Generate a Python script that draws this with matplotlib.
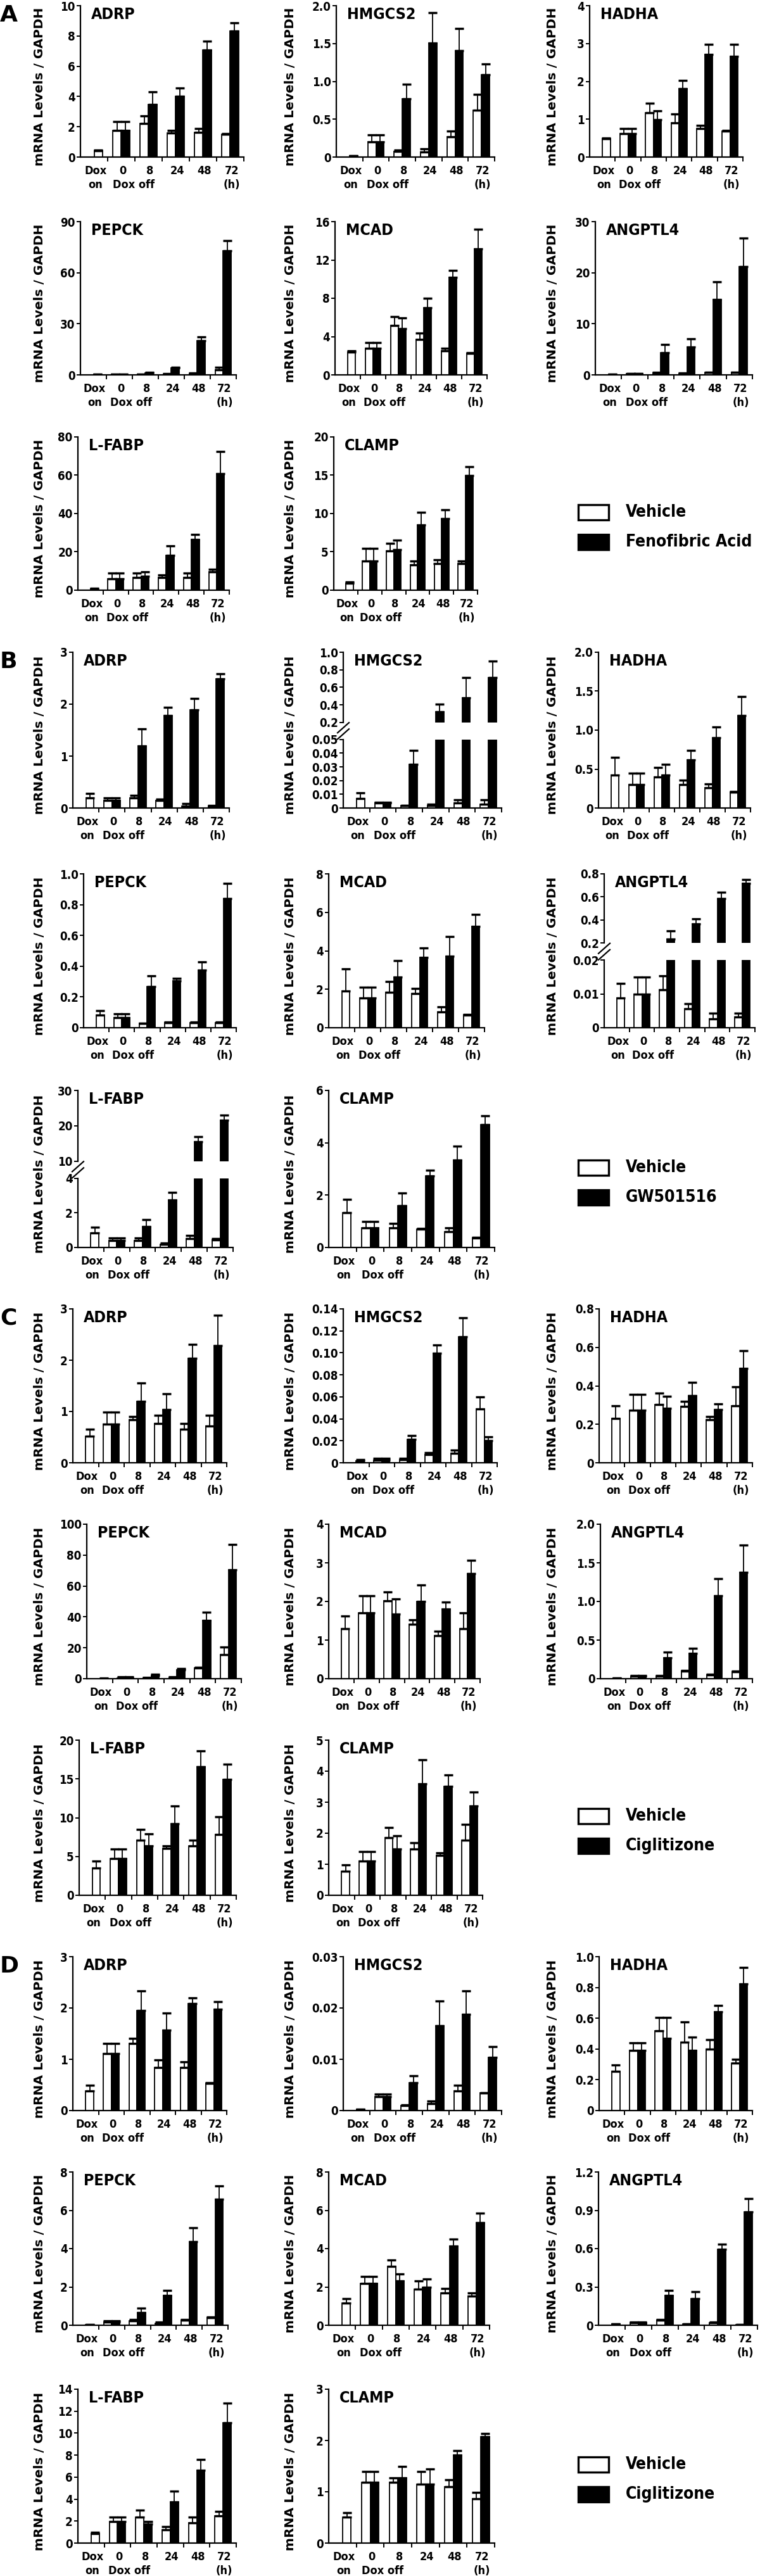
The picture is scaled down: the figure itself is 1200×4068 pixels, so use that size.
import numpy as np
import matplotlib
matplotlib.use("Agg")
import matplotlib.pyplot as plt
from matplotlib import transforms
from matplotlib import font_manager as fm
from matplotlib.patches import Rectangle
from matplotlib.lines import Line2D

nan = np.nan

GROUPS = ["Dox", "0", "8", "24", "48", "72"]
GENES = ["ADRP", "HMGCS2", "HADHA", "PEPCK", "MCAD", "ANGPTL4", "L-FABP", "CLAMP"]
PANELS = ["A", "B", "C", "D"]
TREATMENT = {"A": "Fenofibric Acid", "B": "GW501516", "C": "Ciglitizone", "D": "Ciglitizone"}

# ---- Panel A: fenofibric acid (mean, upward error) ----
A_VEH = {"ADRP": [0.40, 1.77, 2.23, 1.59, 1.63, 1.49],
         "HMGCS2": [0.015, 0.20, 0.077, 0.07, 0.27, 0.62],
         "HADHA": [0.49, 0.62, 1.17, 0.91, 0.76, 0.69],
         "PEPCK": [0.3, 0.4, 0.3, 0.5, 0.8, 3.0],
         "MCAD": [2.4, 2.8, 5.14, 3.72, 2.51, 2.23],
         "ANGPTL4": [0.1, 0.2, 0.4, 0.3, 0.5, 0.5],
         "L-FABP": [0.8, 5.8, 6.6, 6.6, 6.6, 9.5],
         "CLAMP": [0.95, 3.8, 5.1, 3.3, 3.45, 3.45]}
A_VEH_ERR = {"ADRP": [0.07, 0.57, 0.49, 0.18, 0.24, 0.07],
             "HMGCS2": [0.005, 0.09, 0.013, 0.04, 0.07, 0.21],
             "HADHA": [0.02, 0.14, 0.25, 0.22, 0.08, 0.02],
             "PEPCK": [0.1, 0.1, 0.1, 0.2, 0.3, 1.3],
             "MCAD": [0.1, 0.54, 0.94, 0.65, 0.29, 0.07],
             "ANGPTL4": [0.05, 0.1, 0.1, 0.05, 0.05, 0.05],
             "L-FABP": [0.3, 3.0, 2.2, 1.4, 2.2, 1.5],
             "CLAMP": [0.15, 1.63, 1.0, 0.5, 0.55, 0.35]}
A_TRT = {"ADRP": [nan, 1.77, 3.47, 4.01, 7.09, 8.33],
         "HMGCS2": [nan, 0.20, 0.77, 1.51, 1.41, 1.09],
         "HADHA": [nan, 0.62, 0.99, 1.80, 2.71, 2.66],
         "PEPCK": [nan, 0.4, 1.0, 4.0, 20.1, 73.0],
         "MCAD": [nan, 2.8, 4.85, 7.0, 10.16, 13.16],
         "ANGPTL4": [nan, 0.2, 4.4, 5.5, 14.7, 21.2],
         "L-FABP": [nan, 5.8, 7.3, 18.3, 26.3, 60.8],
         "CLAMP": [nan, 3.8, 5.3, 8.55, 9.3, 14.95]}
A_TRT_ERR = {"ADRP": [0, 0.57, 0.86, 0.57, 0.57, 0.54],
             "HMGCS2": [0, 0.09, 0.19, 0.40, 0.29, 0.14],
             "HADHA": [0, 0.14, 0.24, 0.23, 0.27, 0.32],
             "PEPCK": [0, 0.1, 0.5, 0.4, 2.2, 6.0],
             "MCAD": [0, 0.54, 1.12, 0.98, 0.74, 2.03],
             "ANGPTL4": [0, 0.1, 1.6, 1.6, 3.5, 5.6],
             "L-FABP": [0, 3.0, 2.2, 4.9, 2.7, 11.5],
             "CLAMP": [0, 1.63, 1.2, 1.65, 1.2, 1.15]}

# ---- Panel B: GW501516 ----
B_VEH = {"ADRP": [0.20, 0.145, 0.19, 0.145, 0.04, 0.04],
         "HMGCS2": [0.0068, 0.0036, 0.0017, 0.002, 0.0039, 0.0029],
         "HADHA": [0.42, 0.30, 0.40, 0.30, 0.26, 0.20],
         "PEPCK": [0.083, 0.066, 0.028, 0.034, 0.034, 0.034],
         "MCAD": [1.9, 1.55, 1.84, 1.79, 0.83, 0.66],
         "ANGPTL4": [0.0087, 0.0099, 0.0112, 0.0056, 0.0027, 0.0032],
         "L-FABP": [0.86, 0.41, 0.41, 0.18, 0.52, 0.43],
         "CLAMP": [1.32, 0.76, 0.76, 0.70, 0.60, 0.37]}
B_VEH_ERR = {"ADRP": [0.08, 0.055, 0.06, 0.025, 0.04, 0.01],
             "HMGCS2": [0.0042, 0.0004, 0.0003, 0.0008, 0.0019, 0.0029],
             "HADHA": [0.23, 0.15, 0.12, 0.06, 0.05, 0.01],
             "PEPCK": [0.027, 0.026, 0.002, 0.005, 0.005, 0.005],
             "MCAD": [1.16, 0.57, 0.57, 0.25, 0.27, 0.02],
             "ANGPTL4": [0.0044, 0.005, 0.0042, 0.0016, 0.0016, 0.0011],
             "L-FABP": [0.31, 0.14, 0.14, 0.07, 0.18, 0.07],
             "CLAMP": [0.53, 0.22, 0.17, 0.03, 0.16, 0.02]}
B_TRT = {"ADRP": [nan, 0.145, 1.19, 1.78, 1.89, 2.49],
         "HMGCS2": [nan, 0.0036, 0.0317, 0.32, 0.477, 0.71],
         "HADHA": [nan, 0.30, 0.42, 0.62, 0.90, 1.19],
         "PEPCK": [nan, 0.066, 0.266, 0.303, 0.375, 0.841],
         "MCAD": [nan, 1.55, 2.65, 3.66, 3.73, 5.26],
         "ANGPTL4": [nan, 0.0099, 0.235, 0.367, 0.584, 0.72],
         "L-FABP": [nan, 0.41, 1.2, 2.74, 15.45, 21.5],
         "CLAMP": [nan, 0.76, 1.59, 2.73, 3.33, 4.69]}
B_TRT_ERR = {"ADRP": [0, 0.055, 0.34, 0.16, 0.22, 0.10],
             "HMGCS2": [0, 0.0004, 0.0103, 0.09, 0.233, 0.19],
             "HADHA": [0, 0.15, 0.14, 0.12, 0.14, 0.24],
             "PEPCK": [0, 0.026, 0.072, 0.018, 0.053, 0.097],
             "MCAD": [0, 0.57, 0.85, 0.50, 1.02, 0.64],
             "ANGPTL4": [0, 0.005, 0.07, 0.043, 0.056, 0.03],
             "L-FABP": [0, 0.14, 0.4, 0.46, 1.55, 1.5],
             "CLAMP": [0, 0.22, 0.48, 0.23, 0.54, 0.34]}

# ---- Panel C: ciglitizone ----
C_VEH = {"ADRP": [0.52, 0.75, 0.84, 0.76, 0.66, 0.71],
         "HMGCS2": [0.0015, 0.0023, 0.0029, 0.0076, 0.0086, 0.049],
         "HADHA": [0.231, 0.274, 0.303, 0.292, 0.223, 0.296],
         "PEPCK": [0.2, 0.5, 0.5, 1.0, 6.8, 15.4],
         "MCAD": [1.30, 1.71, 2.02, 1.41, 1.12, 1.30],
         "ANGPTL4": [0.005, 0.03, 0.03, 0.096, 0.052, 0.093],
         "L-FABP": [3.48, 4.76, 7.07, 6.04, 6.39, 7.81],
         "CLAMP": [0.78, 1.10, 1.86, 1.50, 1.28, 1.77]}
C_VEH_ERR = {"ADRP": [0.14, 0.24, 0.06, 0.16, 0.10, 0.21],
             "HMGCS2": [0.0014, 0.0015, 0.0009, 0.0014, 0.0028, 0.011],
             "HADHA": [0.065, 0.08, 0.058, 0.026, 0.016, 0.099],
             "PEPCK": [0.1, 0.6, 0.2, 0.1, 0.4, 5.1],
             "MCAD": [0.32, 0.43, 0.22, 0.11, 0.11, 0.40],
             "ANGPTL4": [0.005, 0.01, 0.01, 0.011, 0.008, 0.007],
             "L-FABP": [0.93, 1.23, 1.42, 0.35, 0.68, 2.31],
             "CLAMP": [0.19, 0.31, 0.33, 0.19, 0.09, 0.51]}
C_TRT = {"ADRP": [nan, 0.75, 1.20, 1.04, 2.04, 2.29],
         "HMGCS2": [nan, 0.0023, 0.0213, 0.0994, 0.1147, 0.020],
         "HADHA": [nan, 0.274, 0.283, 0.348, 0.275, 0.49],
         "PEPCK": [nan, 0.5, 2.0, 5.9, 37.9, 70.3],
         "MCAD": [nan, 1.71, 1.67, 2.0, 1.81, 2.72],
         "ANGPTL4": [nan, 0.03, 0.273, 0.325, 1.07, 1.377],
         "L-FABP": [nan, 4.76, 6.39, 9.25, 16.6, 14.97],
         "CLAMP": [nan, 1.10, 1.50, 3.60, 3.52, 2.88]}
C_TRT_ERR = {"ADRP": [0, 0.24, 0.35, 0.30, 0.27, 0.59],
             "HMGCS2": [0, 0.0015, 0.0037, 0.0076, 0.0173, 0.0038],
             "HADHA": [0, 0.08, 0.063, 0.069, 0.03, 0.092],
             "PEPCK": [0, 0.6, 0.7, 0.6, 5.2, 16.7],
             "MCAD": [0, 0.43, 0.40, 0.43, 0.18, 0.35],
             "ANGPTL4": [0, 0.01, 0.068, 0.068, 0.225, 0.35],
             "L-FABP": [0, 1.23, 1.56, 2.25, 2.04, 1.93],
             "CLAMP": [0, 0.31, 0.41, 0.76, 0.36, 0.44]}

# ---- Panel D: ciglitizone ----
D_VEH = {"ADRP": [0.38, 1.11, 1.31, 0.84, 0.84, 0.53],
         "HMGCS2": [0.0002, 0.00267, 0.00095, 0.00136, 0.00382, 0.00341],
         "HADHA": [0.256, 0.39, 0.52, 0.445, 0.40, 0.308],
         "PEPCK": [0.03, 0.15, 0.24, 0.10, 0.25, 0.40],
         "MCAD": [1.17, 2.19, 3.09, 1.90, 1.70, 1.53],
         "ANGPTL4": [0.008, 0.02, 0.04, 0.01, 0.02, 0.005],
         "L-FABP": [0.86, 1.98, 2.36, 1.21, 1.86, 2.49],
         "CLAMP": [0.51, 1.18, 1.18, 1.15, 1.10, 0.86]}
D_VEH_ERR = {"ADRP": [0.11, 0.20, 0.10, 0.15, 0.11, 0.01],
             "HMGCS2": [0.0001, 0.00058, 0.00015, 0.00049, 0.00111, 0.0001],
             "HADHA": [0.039, 0.052, 0.085, 0.133, 0.059, 0.025],
             "PEPCK": [0.01, 0.07, 0.06, 0.05, 0.05, 0.04],
             "MCAD": [0.22, 0.35, 0.31, 0.43, 0.22, 0.15],
             "ANGPTL4": [0.004, 0.005, 0.005, 0.002, 0.005, 0.002],
             "L-FABP": [0.10, 0.38, 0.61, 0.27, 0.50, 0.39],
             "CLAMP": [0.08, 0.21, 0.09, 0.24, 0.13, 0.13]}
D_TRT = {"ADRP": [nan, 1.11, 1.95, 1.57, 2.09, 1.98],
         "HMGCS2": [nan, 0.00267, 0.00547, 0.01656, 0.01878, 0.01036],
         "HADHA": [nan, 0.39, 0.47, 0.39, 0.641, 0.825],
         "PEPCK": [nan, 0.15, 0.66, 1.55, 4.38, 6.57],
         "MCAD": [nan, 2.19, 2.30, 1.97, 4.13, 5.37],
         "ANGPTL4": [nan, 0.02, 0.232, 0.21, 0.593, 0.889],
         "L-FABP": [nan, 1.98, 1.73, 3.74, 6.65, 10.93],
         "CLAMP": [nan, 1.18, 1.27, 1.15, 1.72, 2.07]}
D_TRT_ERR = {"ADRP": [0, 0.20, 0.38, 0.33, 0.11, 0.14],
             "HMGCS2": [0, 0.00058, 0.00133, 0.00484, 0.00452, 0.00209],
             "HADHA": [0, 0.052, 0.135, 0.089, 0.044, 0.107],
             "PEPCK": [0, 0.07, 0.22, 0.27, 0.70, 0.71],
             "MCAD": [0, 0.35, 0.38, 0.44, 0.36, 0.49],
             "ANGPTL4": [0, 0.005, 0.041, 0.055, 0.044, 0.104],
             "L-FABP": [0, 0.38, 0.23, 1.00, 0.96, 1.79],
             "CLAMP": [0, 0.21, 0.23, 0.30, 0.08, 0.07]}

DATA = {"A": (A_VEH, A_VEH_ERR, A_TRT, A_TRT_ERR),
        "B": (B_VEH, B_VEH_ERR, B_TRT, B_TRT_ERR),
        "C": (C_VEH, C_VEH_ERR, C_TRT, C_TRT_ERR),
        "D": (D_VEH, D_VEH_ERR, D_TRT, D_TRT_ERR)}

# y axis: (top, step, decimals)
YAX = {
    "A": {"ADRP": (10, 2, 0), "HMGCS2": (2.0, 0.5, 1), "HADHA": (4, 1, 0), "PEPCK": (90, 30, 0),
          "MCAD": (16, 4, 0), "ANGPTL4": (30, 10, 0), "L-FABP": (80, 20, 0), "CLAMP": (20, 5, 0)},
    "B": {"ADRP": (3, 1, 0), "HADHA": (2.0, 0.5, 1), "PEPCK": (1.0, 0.2, 1), "MCAD": (8, 2, 0),
          "CLAMP": (6, 2, 0)},
    "C": {"ADRP": (3, 1, 0), "HMGCS2": (0.14, 0.02, 2), "HADHA": (0.8, 0.2, 1), "PEPCK": (100, 20, 0),
          "MCAD": (4, 1, 0), "ANGPTL4": (2.0, 0.5, 1), "L-FABP": (20, 5, 0), "CLAMP": (5, 1, 0)},
    "D": {"ADRP": (3, 1, 0), "HMGCS2": (0.03, 0.01, 2), "HADHA": (1.0, 0.2, 1), "PEPCK": (8, 2, 0),
          "MCAD": (8, 2, 0), "ANGPTL4": (1.2, 0.3, 1), "L-FABP": (14, 2, 0), "CLAMP": (3, 1, 0)},
}
# broken axes: lower (top, step, dec), upper (bottom, top, step, dec)
BROKEN = {
    ("B", "HMGCS2"): ((0.05, 0.01, 2), (0.2, 1.0, 0.2, 1)),
    ("B", "ANGPTL4"): ((0.02, 0.01, 2), (0.2, 0.8, 0.2, 1)),
    ("B", "L-FABP"): ((4, 2, 0), (10, 30, 10, 0)),
}

# layout in pixels of the 1200 x 4068 canvas: (top, bottom), [(left, right) ...]
W, H = 1200, 4068
LAYOUT = {
    "A": [((9, 248), [(127, 385), (531, 781), (931, 1173)]),
          ((350, 592), [(127, 373), (529, 769), (940, 1188)]),
          ((690, 932), [(123, 362), (527, 754)])],
    "B": [((1030, 1276), [(115, 362), (542, 792), (945, 1185)]),
          ((1380, 1623), [(132, 373), (519, 765), (954, 1192)]),
          ((1722, 1970), [(123, 368), (519, 781)])],
    "C": [((2067, 2310), [(115, 358), (542, 785), (946, 1188)]),
          ((2407, 2651), [(137, 381), (519, 758), (948, 1188)]),
          ((2748, 2993), [(125, 373), (519, 762)])],
    "D": [((3090, 3333), [(115, 358), (542, 792), (946, 1188)]),
          ((3430, 3672), [(115, 360), (519, 773), (945, 1196)]),
          ((3773, 4016), [(123, 373), (519, 781)])],
}
YLABEL_X = [63, 458, 873]
BAR_W = 0.31

names = {f.name for f in fm.fontManager.ttflist}
if "Liberation Sans Narrow" in names:
    NARROW = {"family": "Liberation Sans Narrow"}
else:
    NARROW = {"family": "DejaVu Sans", "stretch": "condensed"}

fig = plt.figure(figsize=(W / 100, H / 100), dpi=100)


def fx(px):
    return px / W


def fy(py):
    return 1 - py / H


def fmt(v, d):
    return "0" if abs(v) < 1e-12 else f"{v:.{d}f}"


def style_axis(ax, lo, hi, step, dec, bottom=True):
    ax.set_xlim(0, 6)
    ax.set_ylim(lo, hi)
    ticks = np.arange(lo, hi + step / 2, step)
    ax.set_yticks(ticks)
    ax.set_yticklabels([fmt(t, dec) for t in ticks], fontsize=13.5, fontweight="bold", **NARROW)
    for s in ["top", "right"]:
        ax.spines[s].set_visible(False)
    ax.spines["left"].set_linewidth(1.6)
    ax.spines["bottom"].set_linewidth(1.6)
    ax.tick_params(axis="y", direction="out", length=4, width=1.4, pad=2)
    if bottom:
        ax.set_xticks(np.arange(1, 7))
        ax.set_xticklabels([])
        ax.tick_params(axis="x", direction="out", length=5, width=1.4)
    else:
        ax.spines["bottom"].set_visible(False)
        ax.set_xticks([])
    ax.patch.set_alpha(0)


def draw_bars(ax, veh, veh_err, trt, trt_err):
    x = np.arange(6) + 0.5
    xv = x - BAR_W / 2
    xv[0] = x[0] + BAR_W / 2
    xt = x + BAR_W / 2
    veh = np.array(veh, float)
    trt = np.array(trt, float)
    ax.bar(xv, veh, BAR_W, color="white", edgecolor="black", linewidth=1.3, zorder=2)
    ax.errorbar(xv, veh, yerr=[np.zeros(6), veh_err], fmt="none", ecolor="black",
                elinewidth=1.3, capsize=5, capthick=2.5, zorder=3)
    ok = ~np.isnan(trt)
    ax.bar(xt[ok], trt[ok], BAR_W, color="black", edgecolor="black", linewidth=1.3, zorder=2)
    ax.errorbar(xt[ok], trt[ok], yerr=[np.zeros(ok.sum()), np.array(trt_err)[ok]], fmt="none",
                ecolor="black", elinewidth=1.3, capsize=5, capthick=2.5, zorder=3)


def x_labels(ax, bottom):
    trans = transforms.blended_transform_factory(ax.transData, fig.transFigure)
    for i, g in enumerate(GROUPS):
        ax.text(i + 0.55, fy(bottom + 22), g, transform=trans, ha="center", va="center",
                fontsize=13, fontweight="bold", **NARROW)
    for xpos, s in [(0.55, "on"), (1.95, "Dox off"), (5.55, "(h)")]:
        ax.text(xpos, fy(bottom + 44), s, transform=trans, ha="center", va="center",
                fontsize=13, fontweight="bold", **NARROW)


for panel in PANELS:
    veh_d, veh_e, trt_d, trt_e = DATA[panel]
    gi = 0
    for r, ((top, bot), cols) in enumerate(LAYOUT[panel]):
        for c, (lft, rgt) in enumerate(cols):
            gene = GENES[gi]
            gi += 1
            args = (veh_d[gene], veh_e[gene], trt_d[gene], trt_e[gene])
            if (panel, gene) in BROKEN:
                (ltop, lstep, ldec), (hlo, hhi, hstep, hdec) = BROKEN[(panel, gene)]
                total = bot - top
                up_h = total * 0.45
                lo_top = top + total * 0.56
                ax_hi = fig.add_axes([fx(lft), fy(top + up_h), fx(rgt - lft), up_h / H])
                ax_lo = fig.add_axes([fx(lft), fy(bot), fx(rgt - lft), (bot - lo_top) / H])
                draw_bars(ax_hi, *args)
                draw_bars(ax_lo, *args)
                style_axis(ax_hi, hlo, hhi, hstep, hdec, bottom=False)
                style_axis(ax_lo, 0, ltop, lstep, ldec)
                mid = (top + up_h + lo_top) / 2
                for dy in (-5, 5):
                    fig.add_artist(Line2D([fx(lft - 9), fx(lft + 9)],
                                          [fy(mid + dy + 8), fy(mid + dy - 8)],
                                          color="black", lw=1.6))
                x_labels(ax_lo, bot)
            else:
                ytop, ystep, ydec = YAX[panel][gene]
                ax = fig.add_axes([fx(lft), fy(bot), fx(rgt - lft), (bot - top) / H])
                draw_bars(ax, *args)
                style_axis(ax, 0, ytop, ystep, ydec)
                x_labels(ax, bot)
            fig.text(fx(lft + 17), fy(top + 2), gene, ha="left", va="top",
                     fontsize=18, fontweight="bold", **NARROW)
            fig.text(fx(YLABEL_X[c]), fy((top + bot) / 2 + 8), "mRNA Levels / GAPDH",
                     rotation=90, ha="center", va="center", fontsize=14.5,
                     fontweight="bold", family="DejaVu Sans")
    # legend in the empty third slot of the last row
    top3, bot3 = LAYOUT[panel][2][0]
    yw = top3 + 0.49 * (bot3 - top3)
    for k, (col, lab) in enumerate([("white", "Vehicle"), ("black", TREATMENT[panel])]):
        yc = yw + 47 * k
        fig.add_artist(Rectangle((fx(913), fy(yc + 12)), fx(48), 24 / H, facecolor=col,
                                 edgecolor="black", linewidth=2.4, transform=fig.transFigure))
        fig.text(fx(988), fy(yc), lab, ha="left", va="center", fontsize=19,
                 fontweight="bold", **NARROW)
    fig.text(fx(0), fy(LAYOUT[panel][0][0][0] - 2), panel, ha="left", va="top",
             fontsize=26, fontweight="bold", family="DejaVu Sans")

fig.savefig("out.png", dpi=100)
